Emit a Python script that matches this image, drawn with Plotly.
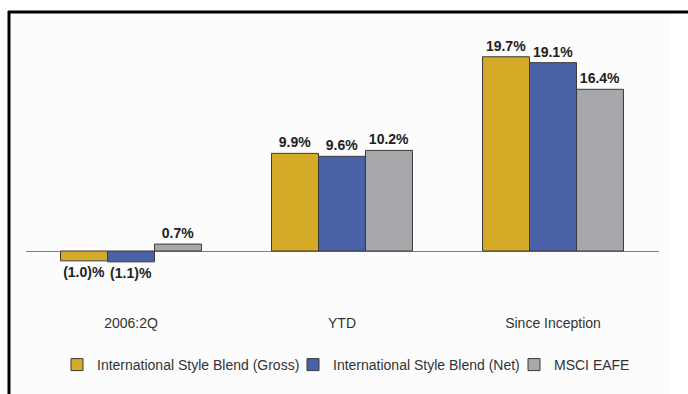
import plotly.graph_objects as go

categories = ["2006:2Q", "YTD", "Since Inception"]
series_names = ["International Style Blend (Gross)", "International Style Blend (Net)", "MSCI EAFE"]
gross = [-1.0, 9.9, 19.7]
net = [-1.1, 9.6, 19.1]
eafe = [0.7, 10.2, 16.4]
colors = ["#D5AA26", "#4A61A8", "#A7A8AC"]
legend_widths = [191, 176, 76]

W, H = 688, 394


def fmt(v):
    return f"({abs(v):.1f})%" if v < 0 else f"{v:.1f}%"


fig = go.Figure()
for name, vals, col, lw in zip(series_names, [gross, net, eafe], colors, legend_widths):
    fig.add_trace(go.Bar(
        x=categories, y=vals, name=name, legendwidth=lw,
        marker=dict(color=col, line=dict(color="#3a3a3a", width=1)),
        text=[fmt(v) for v in vals], textposition="outside",
        textfont=dict(family="Liberation Sans, Arial, sans-serif", size=14, color="#222222"),
        texttemplate="<b>%{text}</b>",
        constraintext="none", cliponaxis=False,
    ))

# plot area in pixel terms
px_left, px_right = 25.5, 658.5
px_top, px_bottom = 40, 300
zero_px = 251
per_pct = 9.86
ymax = (zero_px - px_top) / per_pct
ymin = -(px_bottom - zero_px) / per_pct

fig.update_layout(
    width=W, height=H,
    margin=dict(l=0, r=0, t=0, b=0),
    paper_bgcolor="white", plot_bgcolor="rgba(0,0,0,0)",
    barmode="group", bargap=0.332, bargroupgap=0,
    font=dict(family="Liberation Sans, Arial, sans-serif", size=14, color="#333333"),
    xaxis=dict(domain=[px_left / W, px_right / W], showgrid=False, showline=False,
               zeroline=False, ticks="", ticklabelstandoff=13,
               tickfont=dict(size=14, color="#333333")),
    yaxis=dict(domain=[1 - px_bottom / H, 1 - px_top / H], range=[ymin, ymax],
               showgrid=False, showticklabels=False, showline=False,
               zeroline=True, zerolinecolor="#7f7f7f", zerolinewidth=1),
    legend=dict(orientation="h", x=346 / W, xanchor="center", y=1 - 365 / H,
                yanchor="middle", font=dict(size=14, color="#333333"),
                bgcolor="rgba(0,0,0,0)", traceorder="normal"),
    showlegend=True,
    shapes=[
        dict(type="rect", xref="paper", yref="paper", x0=10 / W, x1=670 / W,
             y0=0, y1=1 - 13 / H, fillcolor="#FCFCFC", line=dict(width=0), layer="below"),
        dict(type="line", xref="paper", yref="paper", x0=8 / W, x1=1,
             y0=1 - 12 / H, y1=1 - 12 / H, line=dict(color="black", width=3)),
        dict(type="line", xref="paper", yref="paper", x0=9 / W, x1=9 / W,
             y0=0, y1=1 - 11 / H, line=dict(color="black", width=3)),
    ],
)

fig.write_html("out.html")
